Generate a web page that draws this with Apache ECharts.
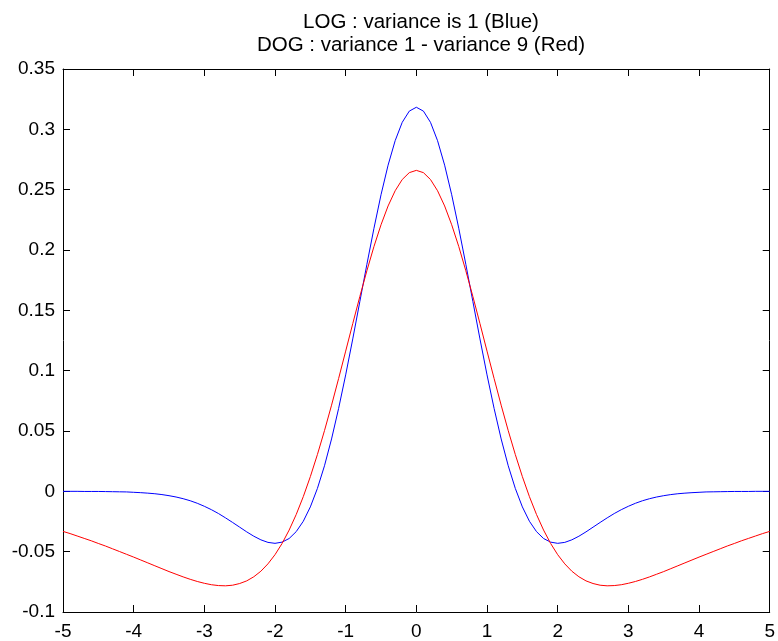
<!DOCTYPE html>
<html>
<head>
<meta charset="utf-8">
<script src="https://cdn.jsdelivr.net/npm/echarts@6/dist/echarts.min.js"></script>
<style>html,body{margin:0;padding:0;background:#fff;}#c{width:778px;height:641px;}</style>
</head>
<body>
<div id="c"></div>
<script>
var titleLines = ['LOG : variance is 1 (Blue)', 'DOG : variance 1 - variance 9 (Red)'];
var xTicks = [-5, -4, -3, -2, -1, 0, 1, 2, 3, 4, 5];
var yTicks = [-0.1, -0.05, 0, 0.05, 0.1, 0.15, 0.2, 0.25, 0.3, 0.35];
var yTickLabels = ['-0.1', '-0.05', '0', '0.05', '0.1', '0.15', '0.2', '0.25', '0.3', '0.35'];

var xs = [-5.0,-4.9,-4.8,-4.7,-4.6,-4.5,-4.4,-4.3,-4.2,-4.1,
-4.0,-3.9,-3.8,-3.7,-3.6,-3.5,-3.4,-3.3,-3.2,-3.1,
-3.0,-2.9,-2.8,-2.7,-2.6,-2.5,-2.4,-2.3,-2.2,-2.1,
-2.0,-1.9,-1.8,-1.7,-1.6,-1.5,-1.4,-1.3,-1.2,-1.1,
-1.0,-0.9,-0.8,-0.7,-0.6,-0.5,-0.4,-0.3,-0.2,-0.1,
0.0,
0.1,0.2,0.3,0.4,0.5,0.6,0.7,0.8,0.9,1.0,
1.1,1.2,1.3,1.4,1.5,1.6,1.7,1.8,1.9,2.0,
2.1,2.2,2.3,2.4,2.5,2.6,2.7,2.8,2.9,3.0,
3.1,3.2,3.3,3.4,3.5,3.6,3.7,3.8,3.9,4.0,
4.1,4.2,4.3,4.4,4.5,4.6,4.7,4.8,4.9,5.0];

var logBlue = [0.0000,0.0000,0.0000,-0.0001,-0.0001,-0.0001,-0.0002,-0.0003,-0.0004,-0.0005,
-0.0008,-0.0011,-0.0015,-0.0020,-0.0027,-0.0036,-0.0047,-0.0061,-0.0078,-0.0099,
-0.0124,-0.0152,-0.0184,-0.0220,-0.0258,-0.0297,-0.0336,-0.0372,-0.0402,-0.0423,
-0.0431,-0.0421,-0.0391,-0.0334,-0.0248,-0.0129,0.0024,0.0212,0.0434,0.0687,
0.0965,0.1263,0.1572,0.1881,0.2180,0.2458,0.2703,0.2906,0.3058,0.3151,
0.3183,
0.3151,0.3058,0.2906,0.2703,0.2458,0.2180,0.1881,0.1572,0.1263,0.0965,
0.0687,0.0434,0.0212,0.0024,-0.0129,-0.0248,-0.0334,-0.0391,-0.0421,-0.0431,
-0.0423,-0.0402,-0.0372,-0.0336,-0.0297,-0.0258,-0.0220,-0.0184,-0.0152,-0.0124,
-0.0099,-0.0078,-0.0061,-0.0047,-0.0036,-0.0027,-0.0020,-0.0015,-0.0011,-0.0008,
-0.0005,-0.0004,-0.0003,-0.0002,-0.0001,-0.0001,-0.0001,0.0000,0.0000,0.0000];

var dogRed = [-0.0332,-0.0350,-0.0370,-0.0390,-0.0410,-0.0432,-0.0453,-0.0476,-0.0499,-0.0522,
-0.0545,-0.0569,-0.0593,-0.0617,-0.0641,-0.0665,-0.0687,-0.0709,-0.0729,-0.0747,
-0.0762,-0.0774,-0.0781,-0.0783,-0.0778,-0.0764,-0.0742,-0.0708,-0.0662,-0.0601,
-0.0525,-0.0432,-0.0321,-0.0192,-0.0044,0.0122,0.0305,0.0503,0.0714,0.0935,
0.1162,0.1390,0.1614,0.1828,0.2029,0.2209,0.2365,0.2491,0.2584,0.2641,
0.2660,
0.2641,0.2584,0.2491,0.2365,0.2209,0.2029,0.1828,0.1614,0.1390,0.1162,
0.0935,0.0714,0.0503,0.0305,0.0122,-0.0044,-0.0192,-0.0321,-0.0432,-0.0525,
-0.0601,-0.0662,-0.0708,-0.0742,-0.0764,-0.0778,-0.0783,-0.0781,-0.0774,-0.0762,
-0.0747,-0.0729,-0.0709,-0.0687,-0.0665,-0.0641,-0.0617,-0.0593,-0.0569,-0.0545,
-0.0522,-0.0499,-0.0476,-0.0453,-0.0432,-0.0410,-0.0390,-0.0370,-0.0350,-0.0332];

function pairs(ys) { return xs.map(function (x, i) { return [x, ys[i]]; }); }
function yLabel(v) {
  for (var i = 0; i < yTicks.length; i++) if (Math.abs(yTicks[i] - v) < 1e-9) return yTickLabels[i];
  return '';
}
var FONT = '"Liberation Sans", Arial, sans-serif';
var lineS = { color: '#000', width: 1 };
function xAx(pos, show) {
  return { type: 'value', position: pos, min: -5, max: 5, interval: 1,
    axisLine: { show: true, onZero: false, lineStyle: lineS },
    axisTick: { show: true, inside: true, length: 7, lineStyle: lineS },
    axisLabel: { show: show, color: '#000', fontSize: 19, fontFamily: FONT, margin: 10 },
    splitLine: { show: false } };
}
function yAx(pos, show) {
  return { type: 'value', position: pos, min: -0.1, max: 0.35, interval: 0.05,
    axisLine: { show: true, onZero: false, lineStyle: lineS },
    axisTick: { show: true, inside: true, length: 7, lineStyle: lineS },
    axisLabel: { show: show, color: '#000', fontSize: 19, fontFamily: FONT, margin: 8, formatter: yLabel },
    splitLine: { show: false } };
}
var chart = echarts.init(document.getElementById('c'), null, { renderer: 'canvas' });
chart.setOption({
  animation: false,
  backgroundColor: '#fff',
  title: { text: titleLines.join('\n'), left: 416, top: 6, textAlign: 'center',
    textStyle: { fontSize: 20.5, fontWeight: 'normal', color: '#000', fontFamily: FONT, lineHeight: 23 } },
  grid: { left: 63, right: 8, top: 69, bottom: 29, containLabel: false },
  xAxis: [xAx('bottom', true), xAx('top', false)],
  yAxis: [yAx('left', true), yAx('right', false)],
  series: [
    { type: 'line', name: 'LOG', data: pairs(logBlue), showSymbol: false, symbol: 'none',
      lineStyle: { color: '#0000ff', width: 1 }, itemStyle: { color: '#0000ff' } },
    { type: 'line', name: 'DOG', data: pairs(dogRed), showSymbol: false, symbol: 'none',
      lineStyle: { color: '#ff0000', width: 1 }, itemStyle: { color: '#ff0000' } }
  ]
});
</script>
</body>
</html>
